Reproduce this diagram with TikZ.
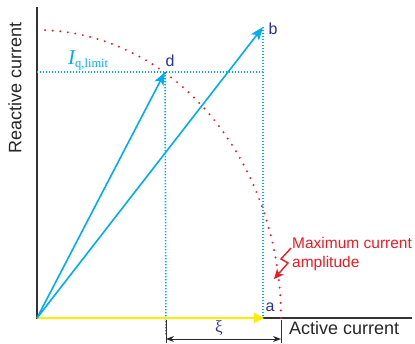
\documentclass[tikz,border=0pt]{standalone}
\usepackage{fontspec}
\setsansfont{Liberation Sans}
\newfontfamily\timesfont{Liberation Serif}
\usetikzlibrary{arrows.meta}
\definecolor{vcyan}{RGB}{0,174,239}
\definecolor{vred}{RGB}{237,28,36}
\definecolor{vyellow}{RGB}{255,236,0}
\definecolor{vlabel}{RGB}{46,49,146}
\tikzset{
  vecarrow/.style={vcyan, line width=1.6pt, -{Stealth[length=13pt,width=10pt,inset=3pt]}},
  cyandot/.style={vcyan, line width=1.6pt, dash pattern=on 1.4pt off 1.6pt},
  reddot/.style={vred, line width=2.2pt, line cap=round, dash pattern=on 0pt off 7.6pt},
  axisline/.style={black!80, line width=1.4pt},
  ptlabel/.style={vlabel, font=\sffamily\fontsize{16}{18}\selectfont, inner sep=0pt},
  axlabel/.style={black!85, font=\sffamily\fontsize{18}{20}\selectfont, inner sep=0pt},
  redlabel/.style={vred, font=\sffamily\fontsize{15.5}{19}\selectfont, align=left, inner sep=0pt}
}
\begin{document}
\begin{tikzpicture}[x=1pt,y=-1pt]
\useasboundingbox (0,0) rectangle (415,343);
\coordinate (O) at (37,318);
\coordinate (ytop) at (37,7);
\coordinate (xend) at (412,318);
\coordinate (a) at (264,318);
\coordinate (b) at (263,27);
\coordinate (d) at (165,72);
\coordinate (bfoot) at (263,318);
\coordinate (dfoot) at (166,335);
\coordinate (hl) at (37,72);
\coordinate (hr) at (263,72);
\coordinate (ta) at (166,320);
\coordinate (tab) at (166,343);
\coordinate (tb) at (281,320);
\coordinate (tbb) at (281,343);
\coordinate (xil) at (166,339);
\coordinate (xir) at (281,339);
% axes
\draw[axisline] (ytop) -- (O) -- (xend);
% dotted guides
\draw[cyandot] (hl) -- (hr);
\draw[cyandot] (b) -- (bfoot);
\draw[cyandot] (d) -- (dfoot);
% ellipse of max current
\draw[reddot] plot[domain=0:89.3, samples=120] ({37+244*cos(\x)},{318-288*sin(\x)});
% vectors
\draw[vyellow, line width=1.8pt, -{Triangle[length=10pt,width=10pt]}] (O) -- (a);
\draw[vecarrow] (O) -- (d);
\draw[vecarrow] (O) -- (b);
% xi dimension
\draw[black!80, line width=0.8pt] (ta) -- (tab);
\draw[black!80, line width=0.8pt] (tb) -- (tbb);
\draw[black!85, line width=1pt, {Stealth[length=8pt,width=6pt]}-{Stealth[length=8pt,width=6pt]}] (xil) -- (xir);
\node[vlabel, font=\timesfont\fontsize{17}{18}\selectfont, inner sep=0pt] (xi) at (219,328) {ξ};
% labels
\node[ptlabel] (la) at (270,307) {a};
\node[ptlabel] (lb) at (273,29) {b};
\node[ptlabel] (ld) at (170,61) {d};
\node[vcyan, inner sep=0pt, anchor=base west, font=\timesfont] (iq) at (68,64) {{\fontsize{21}{22}\selectfont\itshape I}\raisebox{-3pt}{\fontsize{12.5}{14}\selectfont q,limit}};
\node[axlabel, anchor=west] (act) at (289,328) {Active current};
\node[axlabel, rotate=90] (react) at (15,88) {Reactive current};
\node[redlabel, anchor=north west] (maxc) at (292,237) {Maximum current\\amplitude};
% lightning arrow
\coordinate (z0) at (291,248);
\coordinate (z1) at (281,259);
\coordinate (z2) at (288,263);
\coordinate (z3) at (274,279);
\draw[vred, line width=1.4pt, -{Stealth[length=10pt,width=9pt]}] (z0) -- (z1) -- (z2) -- (z3);
\end{tikzpicture}
\end{document}
